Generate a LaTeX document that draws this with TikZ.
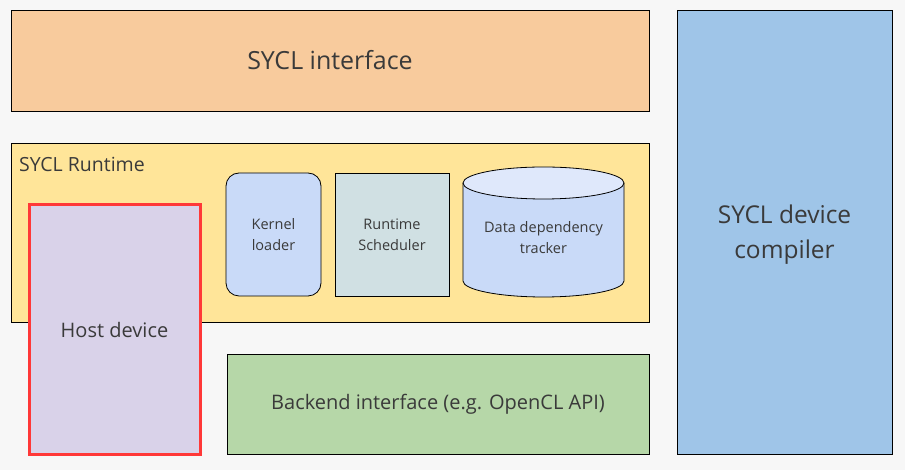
\documentclass[tikz,border=0pt]{standalone}
\usepackage{fontspec}
\setmainfont{Open Sans}
\definecolor{bgc}{HTML}{F7F7F7}
\definecolor{ifc}{HTML}{F8CB9D}
\definecolor{rtc}{HTML}{FFE599}
\definecolor{klc}{HTML}{C9DAF8}
\definecolor{scc}{HTML}{D0E0E3}
\definecolor{cytop}{HTML}{DFE8FB}
\definecolor{hdc}{HTML}{D9D2E9}
\definecolor{hdr}{HTML}{FF3838}
\definecolor{bec}{HTML}{B6D7A8}
\definecolor{dcc}{HTML}{9FC5E8}
\definecolor{txt}{HTML}{3A3A3A}
\begin{document}
\begin{tikzpicture}[x=1pt,y=1pt,
  box/.style={draw=black,line width=0.8pt,inner sep=0pt,text=txt,align=center},
  lbl/.style={text=txt,inner sep=0pt,align=center}]
\fill[bgc] (0,0) rectangle (905,470);
\useasboundingbox (0,0) rectangle (905,470);
% SYCL interface
\node[box,fill=ifc,minimum width=638pt,minimum height=101pt,font=\fontsize{25}{30}\selectfont] (iface) at (330,409.5) {SYCL interface};
% Runtime
\node[box,fill=rtc,minimum width=638pt,minimum height=179pt] (rt) at (330,237.5) {};
\node[lbl,anchor=base west,font=\fontsize{19.5}{23}\selectfont] (rtl) at (19,298) {SYCL Runtime};
% Kernel loader
\node[box,fill=klc,rounded corners=13pt,minimum width=95pt,minimum height=123pt,font=\fontsize{14.5}{21}\selectfont] (kl) at (273.5,235.5) {Kernel\\loader};
% Scheduler
\node[box,fill=scc,minimum width=114pt,minimum height=123pt,font=\fontsize{14.5}{21}\selectfont] (rs) at (392,235.5) {Runtime\\Scheduler};
% Cylinder
\fill[klc] (463,287) -- (463,189) arc[start angle=180,end angle=360,x radius=80.5,y radius=16] -- (624,287) -- cycle;
\fill[cytop] (543.5,287) ellipse[x radius=80.5,y radius=16];
\draw[line width=0.8pt] (463,287) -- (463,189) arc[start angle=180,end angle=360,x radius=80.5,y radius=16] -- (624,287);
\draw[line width=0.8pt] (543.5,287) ellipse[x radius=80.5,y radius=16];
\node[lbl,font=\fontsize{14.5}{21}\selectfont] (dd) at (543.5,232) {Data dependency\\tracker};
% Host device
\node[draw=hdr,line width=3pt,fill=hdc,minimum width=171pt,minimum height=250pt,inner sep=0pt,text=txt,font=\fontsize{20}{24}\selectfont] (hd) at (114.5,140) {Host device};
% Backend
\node[box,fill=bec,minimum width=422pt,minimum height=100pt,font=\fontsize{20}{24}\selectfont] (be) at (438,66) {Backend interface (e.g. OpenCL API)};
% Device compiler
\node[box,fill=dcc,minimum width=215pt,minimum height=444pt] (dc) at (784.5,238) {};
\node[lbl,font=\fontsize{24.5}{35}\selectfont] (dcl) at (784.5,235) {SYCL device\\compiler};
\end{tikzpicture}
\end{document}
